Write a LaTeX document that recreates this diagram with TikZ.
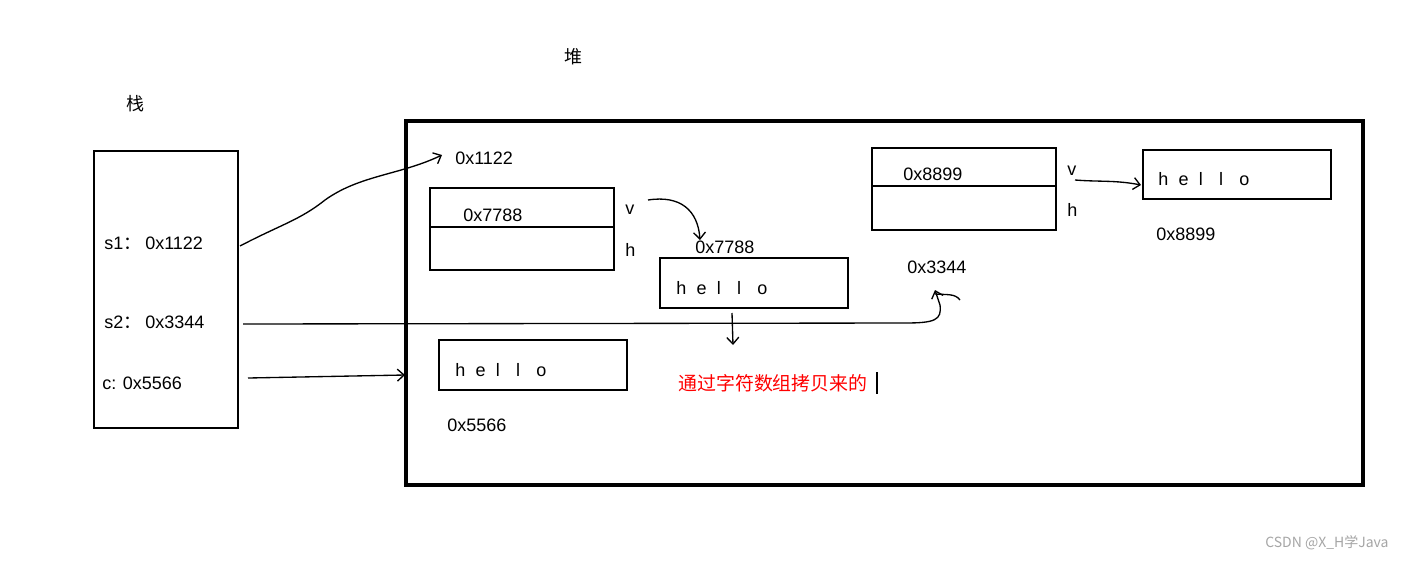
\documentclass[tikz,border=0pt]{standalone}
\usepackage{fontspec}
\setmainfont{Liberation Sans}
\newfontfamily\cjk{Noto Sans CJK SC}
\usetikzlibrary{arrows.meta}
\newcommand{\hlo}{\makebox[15.2pt][l]{h}\makebox[15.2pt][l]{e}\makebox[15.2pt][l]{l}\makebox[15.2pt][l]{l}o}
\begin{document}
\begin{tikzpicture}[x=0.75pt,y=-0.75pt,
  lab/.style={anchor=west,inner sep=0pt,font=\fontsize{13.5pt}{15pt}\selectfont},
  bx/.style={draw,line width=1.5pt},
  arr/.style={line width=1pt,-{Straight Barb[length=5pt,width=9pt]}}]
\useasboundingbox[fill=white] (0,0) rectangle (1413,561);
\node[lab,font=\cjk\fontsize{13.5pt}{15pt}\selectfont] (zhan) at (126,104) {栈};
\node[lab,font=\cjk\fontsize{13.5pt}{15pt}\selectfont] (dui) at (564,57) {堆};
\draw[bx] (94,151) rectangle (238,428);
\node[lab] (s1) at (104,243) {s1{\cjk ：}\hspace{3pt}0x1122};
\node[lab] (s2) at (104,322) {s2{\cjk ：}\hspace{3pt}0x3344};
\node[lab] (c) at (102,383) {c: 0x5566};
\draw[line width=2.5pt] (406,121) rectangle (1363,485);
\node[lab] (a1122) at (455,158) {0x1122};
\draw[bx] (430,188) rectangle (614,270); \draw[bx] (430,227) -- (614,227);
\node[lab] (o1) at (463,215) {0x7788};
\node[lab] (v1) at (625,210) {v};
\node[lab] (h1) at (625,250) {h};
\node[lab] (a7788) at (695,247) {0x7788};
\draw[bx] (660,258) rectangle (848,308);
\node[lab] (hel1) at (676,288) {\hlo};
\draw[bx] (872,148) rectangle (1056,230); \draw[bx] (872,186) -- (1056,186);
\node[lab] (o2) at (903,174) {0x8899};
\node[lab] (v2) at (1067,171) {v};
\node[lab] (h2) at (1067,210) {h};
\draw[bx] (1143,150) rectangle (1331,199);
\node[lab] (hel2) at (1158,179) {\hlo};
\node[lab] (a8899) at (1156,234) {0x8899};
\node[lab] (a3344) at (907,267) {0x3344};
\draw[bx] (439,340) rectangle (627,390);
\node[lab] (hel3) at (455,370) {\hlo};
\node[lab] (a5566) at (447,425) {0x5566};
\node[lab,text=red,font=\cjk\fontsize{14.2pt}{15pt}\selectfont] (red) at (678,383) {通过字符数组拷贝来的};
\draw[line width=1.5pt] (877,372) -- (877,394);
\node[lab,text=gray!70,font=\fontsize{10.5pt}{12pt}\selectfont\cjk] (wm) at (1265,543) {CSDN @X\_H学Java};
\coordinate (p1) at (240,246); \coordinate (q1) at (442,155);
\draw[arr] (p1) .. controls (280,225) and (300,220) .. (325,200) .. controls (360,175) and (400,175) .. (q1);
\coordinate (p2) at (243,324); \coordinate (q2) at (935,290);
\draw[arr] (p2) -- (905,323) .. controls (935,323) and (942,320) .. (940,305) -- (q2);
\draw[line width=1pt] (935,294) .. controls (945,295) and (955,293) .. (960,300);
\coordinate (p3) at (248,378); \coordinate (q3) at (405,375);
\draw[arr] (p3) -- (q3);
\coordinate (p4) at (648,200); \coordinate (q4) at (700,240);
\draw[arr] (p4) .. controls (680,195) and (698,210) .. (q4);
\coordinate (p5) at (732,313); \coordinate (q5) at (733,345);
\draw[arr] (p5) -- (q5);
\coordinate (p6) at (1075,180); \coordinate (q6) at (1141,185);
\draw[arr] (p6) .. controls (1100,182) and (1115,180) .. (q6);
\end{tikzpicture}
\end{document}
